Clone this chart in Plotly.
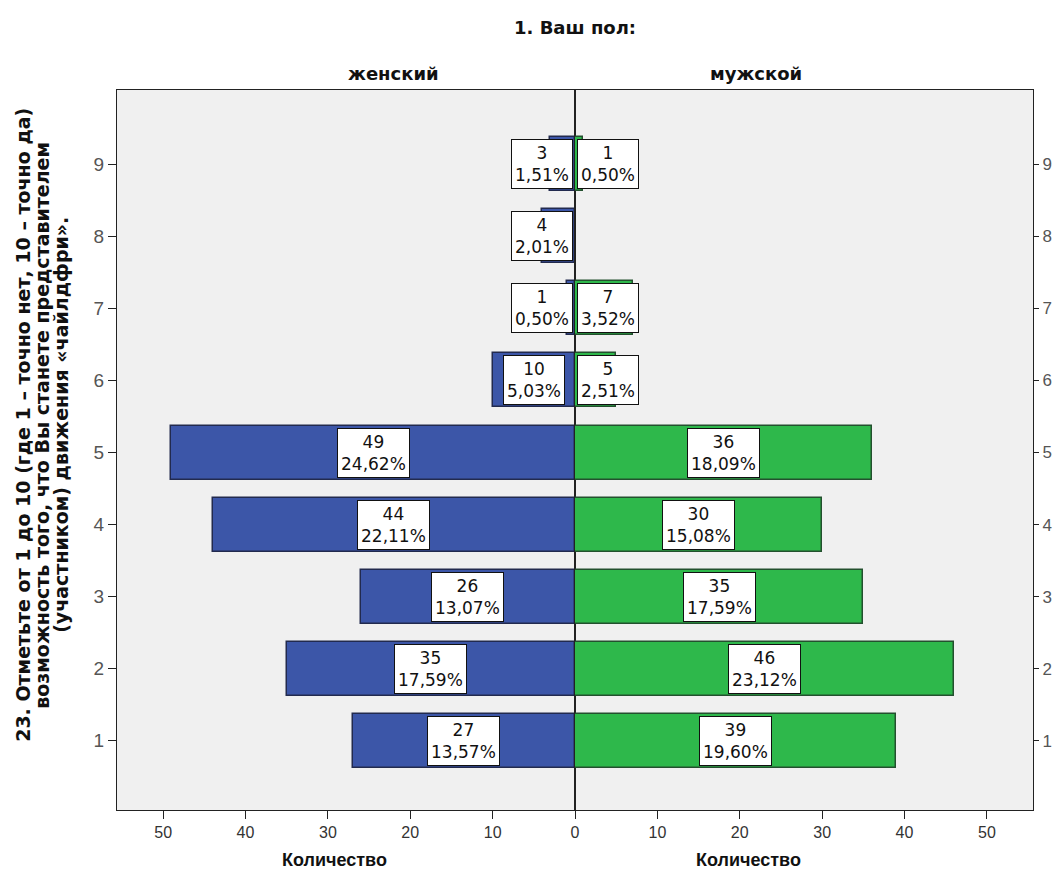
import plotly.graph_objects as go
from plotly.subplots import make_subplots

# ---- data ----
scores = [1, 2, 3, 4, 5, 6, 7, 8, 9]
female_counts = [27, 35, 26, 44, 49, 10, 1, 4, 3]
female_pct = ["13,57%", "17,59%", "13,07%", "22,11%", "24,62%", "5,03%", "0,50%", "2,01%", "1,51%"]
male_counts = [39, 46, 35, 30, 36, 5, 7, 0, 1]
male_pct = ["19,60%", "23,12%", "17,59%", "15,08%", "18,09%", "2,51%", "3,52%", "", "0,50%"]
x_ticks = [0, 10, 20, 30, 40, 50]

title = "1. Ваш пол:"
panel_titles = ["женский", "мужской"]
x_title = "Количество"
y_title_lines = ["23. Отметьте от 1 до 10 (где 1 – точно нет, 10 – точно да)",
                 "возможность того, что Вы станете представителем",
                 "(участником) движения «чайлдфри»."]

FONT = "Liberation Sans, Arial, sans-serif"
WIDE = "DejaVu Sans, Verdana, sans-serif"
BLUE = "#3C56A8"
BLUE_EDGE = "#222A4E"
GREEN = "#2EB84B"
GREEN_EDGE = "#23502E"
XMAX = 55.6
YR = [0.04, 10.03]
MIN_CENTER = 4.0

fig = make_subplots(rows=1, cols=2, shared_yaxes=False, horizontal_spacing=0)

fig.add_trace(go.Bar(y=scores, x=female_counts, orientation="h", width=0.75,
                     marker=dict(color=BLUE, line=dict(color=BLUE_EDGE, width=1.5)),
                     hoverinfo="skip", showlegend=False), row=1, col=1)
fig.add_trace(go.Bar(y=scores, x=male_counts, orientation="h", width=0.75,
                     marker=dict(color=GREEN, line=dict(color=GREEN_EDGE, width=1.5)),
                     hoverinfo="skip", showlegend=False), row=1, col=2)

annos = []
for xr, yr, counts, pcts in [("x", "y", female_counts, female_pct),
                              ("x2", "y2", male_counts, male_pct)]:
    for s, c, p in zip(scores, counts, pcts):
        if c > 0:
            annos.append(dict(x=max(c / 2, MIN_CENTER), y=s, xref=xr, yref=yr,
                              text=f"{c}<br>{p}", showarrow=False,
                              font=dict(family=WIDE, size=17, color="#111"),
                              bgcolor="white", bordercolor="#111", borderwidth=1,
                              borderpad=3, xanchor="center", yanchor="middle"))

# titles
annos.append(dict(text=f"<b>{title}</b>", x=0.5, y=1.0, xref="paper", yref="paper",
                  yanchor="middle", yshift=63, showarrow=False,
                  font=dict(family=WIDE, size=18, color="#111")))
for i, t in enumerate(panel_titles):
    annos.append(dict(text=f"<b>{t}</b>", x=0.25 + 0.5 * i, y=1.0, xref="paper", yref="paper",
                      yanchor="middle", yshift=17, showarrow=False,
                      font=dict(family=WIDE, size=18, color="#111")))
for xp in [0.178, 0.749]:
    annos.append(dict(text=f"<b>{x_title}</b>", x=xp, y=0, xref="paper", yref="paper",
                      yanchor="middle", yshift=-50, showarrow=False,
                      font=dict(family=FONT, size=18, color="#111")))
for xp, line in zip([-0.1026, -0.0819, -0.0611], y_title_lines):
    annos.append(dict(text=f"<b>{line}</b>", x=xp, y=0.535, xref="paper", yref="paper",
                      textangle=-90, xanchor="center", yanchor="middle", showarrow=False,
                      font=dict(family=WIDE, size=19, color="#111")))

axis_common = dict(showgrid=False, zeroline=False, showline=True, linecolor="#222",
                   linewidth=1, ticks="outside", ticklen=8, tickcolor="#222",
                   tickfont=dict(family=FONT, size=16, color="#333"))
yfont = dict(family=FONT, size=19, color="#555")

fig.update_xaxes(range=[XMAX, 0], tickvals=x_ticks, mirror=True, row=1, col=1, **axis_common)
fig.update_xaxes(range=[0, XMAX], tickvals=x_ticks[1:], mirror=True, row=1, col=2, **axis_common)
fig.update_yaxes(range=YR, tickvals=scores, mirror=True, side="left", row=1, col=1,
                 **{**axis_common, "tickfont": yfont})
fig.update_yaxes(range=YR, tickvals=scores, mirror=True, side="right", row=1, col=2,
                 **{**axis_common, "tickfont": dict(family=FONT, size=17, color="#555"),
                    "ticklen": 5, "ticklabelstandoff": 0})

fig.update_layout(
    width=1045, height=861,
    margin=dict(l=109, r=20, t=82, b=59, autoexpand=False),
    paper_bgcolor="white", plot_bgcolor="#F0F0F0",
    annotations=annos, bargap=0,
    font=dict(family=FONT),
)

fig.write_html("out.html")
